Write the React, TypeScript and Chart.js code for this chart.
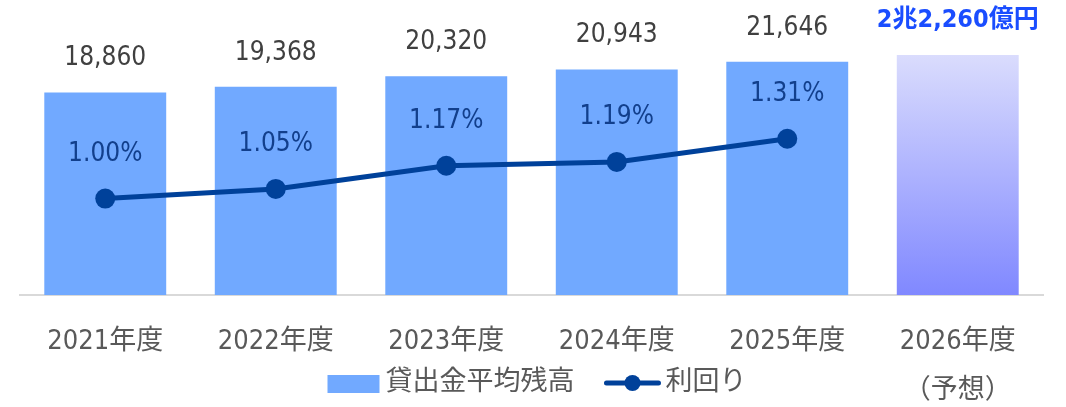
import React, { useEffect, useRef } from 'react';
import { Chart, registerables } from 'chart.js';

Chart.register(...registerables);

// ---- data ----
const categories = ['2021年度', '2022年度', '2023年度', '2024年度', '2025年度', '2026年度'];
const categoryNotes = ['', '', '', '', '', '（予想）'];
const loanBalance = [18860, 19368, 20320, 20943, 21646, 22260];
const balanceLabels = ['18,860', '19,368', '20,320', '20,943', '21,646', '2兆2,260億円'];
const yieldRate: (number | null)[] = [1.0, 1.05, 1.17, 1.19, 1.31, null];
const yieldLabels = ['1.00%', '1.05%', '1.17%', '1.19%', '1.31%', ''];
const seriesNames = ['貸出金平均残高', '利回り'];
const forecastIndex = 5;

// ---- styles ----
const FONT = '"DejaVu Sans Condensed", "Noto Sans CJK JP", sans-serif';
const BAR_COLOR = '#71a9ff';
const LINE_COLOR = '#00419a';

const valueLabelsPlugin = {
  id: 'valueLabels',
  afterDatasetsDraw(chart: any) {
    const ctx = chart.ctx;
    ctx.save();
    ctx.textAlign = 'center';
    ctx.textBaseline = 'middle';
    const barMeta = chart.getDatasetMeta(0);
    barMeta.data.forEach((el: any, i: number) => {
      const forecast = i === forecastIndex;
      ctx.font = forecast ? `bold 25px ${FONT}` : `26px ${FONT}`;
      ctx.fillStyle = forecast ? '#1a4dff' : '#404040';
      ctx.fillText(balanceLabels[i], el.x, el.y - (forecast ? 35 : 34));
    });
    const lineMeta = chart.getDatasetMeta(1);
    ctx.font = `26px ${FONT}`;
    ctx.fillStyle = '#123f8c';
    lineMeta.data.forEach((el: any, i: number) => {
      if (yieldRate[i] == null) return;
      ctx.fillText(yieldLabels[i], el.x, el.y - 44.5);
    });
    ctx.restore();
  },
};

const legendPlugin = {
  id: 'customLegend',
  afterDraw(chart: any) {
    const ctx = chart.ctx;
    ctx.save();
    ctx.font = `27px ${FONT}`;
    const boxW = 52;
    const boxH = 18;
    const gapText = 6;
    const gapItems = 30;
    const lineW = 56;
    const lineGap = 5;
    const t0 = ctx.measureText(seriesNames[0]).width;
    const t1 = ctx.measureText(seriesNames[1]).width;
    const total = boxW + gapText + t0 + gapItems + lineW + lineGap + t1;
    let x = 537 - total / 2;
    const cy = 384;
    const ty = 383;
    ctx.fillStyle = BAR_COLOR;
    ctx.fillRect(x, cy - boxH / 2, boxW, boxH);
    x += boxW + gapText;
    ctx.fillStyle = '#595959';
    ctx.textAlign = 'left';
    ctx.textBaseline = 'middle';
    ctx.fillText(seriesNames[0], x, ty);
    x += t0 + gapItems;
    ctx.strokeStyle = LINE_COLOR;
    ctx.lineWidth = 5;
    ctx.lineCap = 'round';
    ctx.beginPath();
    ctx.moveTo(x + 2, cy - 1);
    ctx.lineTo(x + lineW - 2, cy - 1);
    ctx.stroke();
    ctx.fillStyle = LINE_COLOR;
    ctx.beginPath();
    ctx.arc(x + lineW / 2, cy - 1, 8, 0, Math.PI * 2);
    ctx.fill();
    x += lineW + lineGap;
    ctx.fillStyle = '#595959';
    ctx.fillText(seriesNames[1], x, ty);
    ctx.restore();
  },
};

export default function App() {
  const canvasRef = useRef<HTMLCanvasElement | null>(null);

  useEffect(() => {
    if (!canvasRef.current) return;
    const labels = categories.map((c, i) => (categoryNotes[i] ? [c, categoryNotes[i]] : c));
    const chart = new Chart(canvasRef.current, {
      type: 'bar',
      data: {
        labels,
        datasets: [
          {
            type: 'bar',
            label: seriesNames[0],
            data: loanBalance,
            yAxisID: 'y',
            order: 1,
            backgroundColor: (c: any) => {
              if (c.dataIndex !== forecastIndex) return BAR_COLOR;
              const ch = c.chart;
              const area = ch.chartArea;
              if (!area) return '#a9adff';
              const top = ch.scales.y.getPixelForValue(loanBalance[forecastIndex]);
              const g = ch.ctx.createLinearGradient(0, top, 0, area.bottom);
              g.addColorStop(0, '#dadcfd');
              g.addColorStop(1, '#8088ff');
              return g;
            },
            borderWidth: 0,
            categoryPercentage: 1,
            barPercentage: 0.715,
          } as any,
          {
            type: 'line',
            label: seriesNames[1],
            data: yieldRate,
            yAxisID: 'y2',
            order: 0,
            borderColor: LINE_COLOR,
            backgroundColor: LINE_COLOR,
            borderWidth: 5,
            pointRadius: 10,
            pointBorderWidth: 0,
            pointBackgroundColor: LINE_COLOR,
            tension: 0,
            fill: false,
          } as any,
        ],
      },
      options: {
        responsive: false,
        animation: false,
        devicePixelRatio: 1,
        layout: { padding: { left: 20, right: 23, top: 25, bottom: 0 } },
        plugins: {
          legend: { display: false },
          tooltip: { enabled: false },
        },
        scales: {
          x: {
            offset: true,
            grid: { display: false, drawTicks: false, tickLength: 0 },
            border: { display: true, color: '#d9d9d9', width: 2 },
            ticks: {
              color: '#595959',
              font: { family: FONT, size: 27, lineHeight: 1.8 },
              padding: 23,
              maxRotation: 0,
              autoSkip: false,
            },
            afterFit: (scale: any) => {
              scale.height = 112;
            },
          },
          y: { display: false, min: 400, max: 25000 },
          y2: { display: false, position: 'right', min: 0.5, max: 1.9 },
        },
      } as any,
      plugins: [valueLabelsPlugin, legendPlugin],
    });
    return () => chart.destroy();
  }, []);

  return (
    <div style={{ position: 'fixed', left: 0, top: 0, width: 1066, height: 407, background: '#fff' }}>
      <canvas ref={canvasRef} width={1066} height={407} style={{ width: 1066, height: 407, display: 'block' }} />
    </div>
  );
}
